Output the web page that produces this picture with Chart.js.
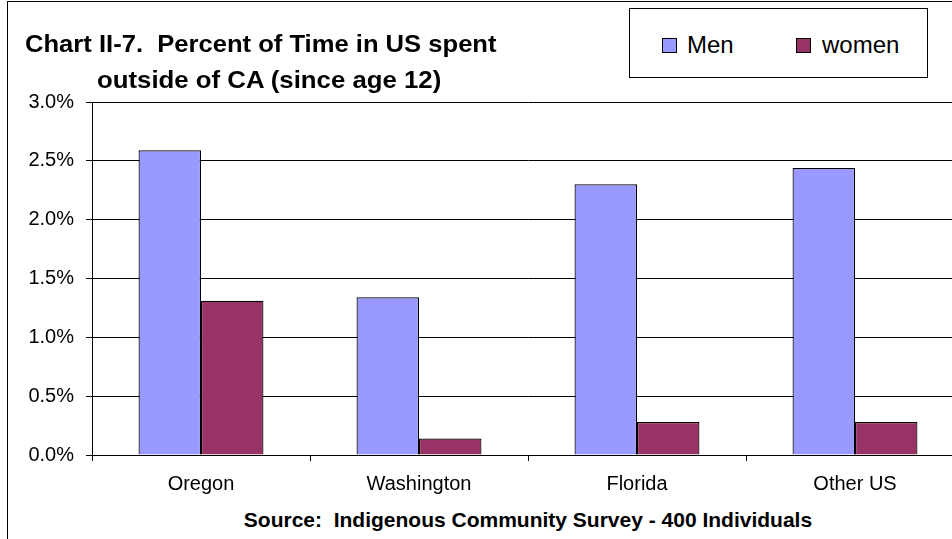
<!DOCTYPE html>
<html>
<head>
<meta charset="utf-8">
<script src="https://cdn.jsdelivr.net/npm/chart.js@4/dist/chart.umd.min.js"></script>
<style>
  html, body { margin: 0; padding: 0; background: #fff; overflow: hidden; width: 952px; height: 539px; }
  #frame { position: absolute; left: 7px; top: 1px; width: 1000px; height: 600px; border: 1px solid #000; box-sizing: border-box; }
  #wrap { position: absolute; left: 0; top: 0; width: 1000px; height: 500px; }
  .txt { position: absolute; font-family: "Liberation Sans", Arial, sans-serif; color: #000; white-space: nowrap; }
  #title1 { left: 25px; top: 30px; font-size: 24px; font-weight: bold; transform: scaleX(1.066); transform-origin: 0 0; }
  #title2 { left: 97px; top: 66px; font-size: 24px; font-weight: bold; transform: scaleX(1.074); transform-origin: 0 0; }
  #legend { position: absolute; left: 629px; top: 8px; width: 299px; height: 70px; border: 1px solid #000; box-sizing: border-box; background: #fff; }
  .sw { position: absolute; width: 15px; height: 15px; border: 1px solid #000; box-sizing: border-box; }
  #source { left: 0; width: 1056px; text-align: center; top: 508px; font-size: 21px; font-weight: bold; }
</style>
</head>
<body>
<div id="frame"></div>
<div id="wrap"><canvas id="chart"></canvas></div>
<div class="txt" id="title1">Chart II-7.&nbsp; Percent of Time in US spent</div>
<div class="txt" id="title2">outside of CA (since age 12)</div>
<div id="legend"></div>
<div class="txt" id="source">Source:&nbsp; Indigenous Community Survey - 400 Individuals</div>
<script>
// datos del grafico
const categories = ["Oregon", "Washington", "Florida", "Other US"];
const seriesNames = ["Men", "women"];
const menValues = [2.59, 1.34, 2.30, 2.44];
const womenValues = [1.31, 0.14, 0.28, 0.28];
const yTicks = [0, 0.5, 1.0, 1.5, 2.0, 2.5, 3.0];

const colors = ["#9999FF", "#993366"];
const fontFamily = '"Liberation Sans", Arial, sans-serif';

// fija el ancho/alto de los ejes para que el area del grafico quede en su sitio
function fixSize(size) {
  return function (scale) {
    if (scale.isHorizontal()) scale.height = size;
    else scale.width = size;
  };
}

const ctx = document.getElementById("chart").getContext("2d");
const chart = new Chart(ctx, {
  type: "bar",
  data: {
    labels: categories,
    datasets: [
      {
        label: seriesNames[0],
        data: menValues,
        backgroundColor: colors[0],
        borderColor: "#000",
        borderWidth: 1.2,
      },
      {
        label: seriesNames[1],
        data: womenValues,
        backgroundColor: colors[1],
        borderColor: "#000",
        borderWidth: 1.2,
      },
    ],
  },
  options: {
    responsive: true,
    maintainAspectRatio: false,
    animation: false,
    categoryPercentage: 0.573,
    barPercentage: 1.0,
    layout: { padding: { left: 0, top: 102, right: 36, bottom: 5 } },
    plugins: {
      legend: { display: false },
      tooltip: { enabled: false },
    },
    scales: {
      x: {
        afterFit: fixSize(40),
        grid: { drawOnChartArea: false, drawTicks: true, tickLength: 6, color: "#000", offset: true },
        border: { display: true, color: "#000", width: 1 },
        ticks: { color: "#000", font: { family: fontFamily, size: 20 }, padding: 11 },
      },
      y: {
        min: 0,
        max: 3.0,
        afterFit: fixSize(92),
        afterBuildTicks: (scale) => {
          scale.ticks = yTicks.map((v) => ({ value: v }));
        },
        grid: { color: "#000", lineWidth: 1, tickLength: 6 },
        border: { display: true, color: "#000", width: 1 },
        ticks: {
          color: "#000",
          font: { family: fontFamily, size: 20 },
          padding: 12,
          callback: (v) => v.toFixed(1) + "%",
        },
      },
    },
  },
});

// leyenda en HTML a partir de los datasets
const legend = document.getElementById("legend");
const legendPos = [{ sw: 32, tx: 57 }, { sw: 166, tx: 192 }];
chart.data.datasets.forEach((ds, i) => {
  const sw = document.createElement("div");
  sw.className = "sw";
  sw.style.left = legendPos[i].sw + "px";
  sw.style.top = "29px";
  sw.style.background = ds.backgroundColor;
  legend.appendChild(sw);
  const t = document.createElement("div");
  t.className = "txt";
  t.style.left = legendPos[i].tx + "px";
  t.style.top = "22px";
  t.style.fontSize = "24px";
  t.textContent = ds.label;
  legend.appendChild(t);
});
</script>
</body>
</html>
